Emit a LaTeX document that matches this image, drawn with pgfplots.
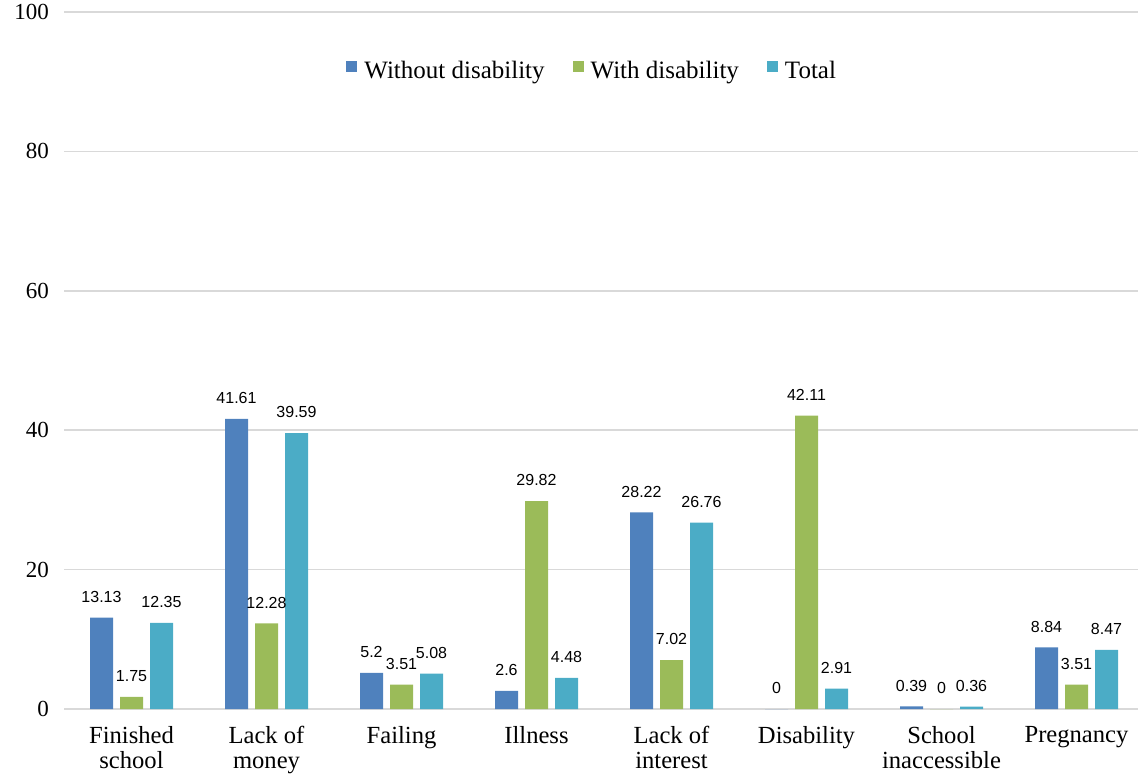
\documentclass[border=0pt]{standalone}
\usepackage{pgfplots}
\pgfplotsset{compat=1.18}
\usepackage{fontspec}
\setmainfont{Liberation Serif}
\setsansfont{Liberation Sans}
\definecolor{cBlue}{HTML}{4F81BD}
\definecolor{cGreen}{HTML}{9BBB59}
\definecolor{cCyan}{HTML}{4BACC6}
\definecolor{gridc}{HTML}{D9D9D9}
\begin{document}
\begin{tikzpicture}
\begin{axis}[
  scale only axis, width=540pt, height=348.5pt,
  xmin=-0.5, xmax=7.5, ymin=0, ymax=100,
  ybar=3.5pt, bar width=11.5pt,
  axis line style={draw=none},
  major tick length=0pt,
  ymajorgrids, grid style={gridc, line width=0.8pt},
  ytick={0,20,40,60,80,100},
  xtick={0,1,2,3,4,5,6,7},
  xticklabels={{Finished\\school},{Lack of\\money},{Failing},{Illness},{Lack of\\interest},{Disability},{School\\inaccessible},{Pregnancy}},
  xticklabel style={align=center, font=\fontsize{12.3}{12.6}\selectfont, anchor=north, yshift=-5pt},
  yticklabel style={font=\fontsize{11.5}{14}\selectfont, xshift=-4pt},
  /pgf/number format/assume math mode=true,
  nodes near coords={\pgfmathprintnumber[fixed,precision=2]{\pgfplotspointmeta}},
  every node near coord/.append style={font=\sffamily\fontsize{8}{9}\selectfont, black, anchor=south, yshift=4pt},
  legend style={at={(0.49,0.915)}, anchor=center, draw=none, legend columns=3,
    font=\fontsize{12.5}{14}\selectfont,
    /tikz/every odd column/.append style={column sep=1.5pt},
    /tikz/every even column/.append style={column sep=12pt}},
  legend image code/.code={\fill[#1] (0pt,-0.5pt) rectangle (5.5pt,5pt);},
]
\addplot[fill=cBlue, draw=none] coordinates {(0,13.13) (1,41.61) (2,5.2) (3,2.6) (4,28.22) (5,0) (6,0.39) (7,8.84)};
\addplot[fill=cGreen, draw=none] coordinates {(0,1.75) (1,12.28) (2,3.51) (3,29.82) (4,7.02) (5,42.11) (6,0) (7,3.51)};
\addplot[fill=cCyan, draw=none] coordinates {(0,12.35) (1,39.59) (2,5.08) (3,4.48) (4,26.76) (5,2.91) (6,0.36) (7,8.47)};
\legend{Without disability, With disability, Total}
\end{axis}
\pgfresetboundingbox
\path[use as bounding box] ([xshift=-32pt,yshift=-32pt]current axis.south west) rectangle ([xshift=-3pt,yshift=6pt]current axis.north east);
\end{tikzpicture}
\end{document}
